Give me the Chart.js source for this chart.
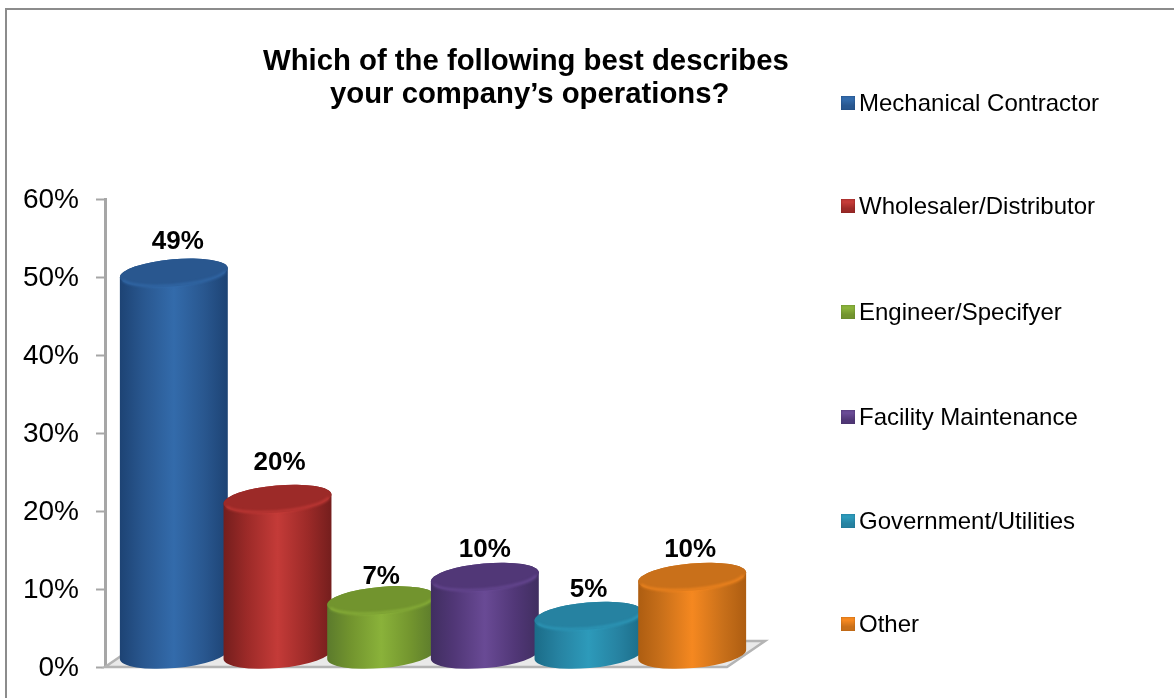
<!DOCTYPE html>
<html lang="en">
<head>
<meta charset="utf-8">
<title>Company operations</title>
<script src="https://cdn.jsdelivr.net/npm/chart.js@4/dist/chart.umd.min.js"></script>
<style>
    html, body { margin: 0; padding: 0; background: #fff; overflow: hidden; }
    body { width: 1174px; height: 698px; position: relative; font-family: "Liberation Sans", Arial, sans-serif; color: #000; }
    #frame { position: absolute; left: 5px; top: 8px; width: 1169px; height: 690px; box-sizing: border-box;
             border-left: 2px solid #8c8c8c; border-top: 2px solid #8c8c8c; }
    #chart { position: absolute; left: 0; top: 0; }
    #title { position: absolute; left: 0; top: 0; margin: 0; font-size: 29.3px; font-weight: bold; line-height: 32px; white-space: nowrap; }
    #title span { position: absolute; }
    #legend { position: absolute; left: 841px; top: 0; margin: 0; padding: 0; list-style: none; font-size: 24px; }
    #legend li { position: absolute; height: 28px; line-height: 28px; white-space: nowrap; }
    #legend i { position: absolute; left: 0; top: 7px; width: 14px; height: 14px; }
    #legend b { position: absolute; left: 18px; top: 0; font-weight: normal; }
</style>
</head>
<body>
<div id="frame"></div>
<canvas id="chart" width="1174" height="698"></canvas>
<h1 id="title">
    <span style="left:263px;top:44px">Which of the following best describes</span>
    <span style="left:330px;top:77px">your company’s operations?</span>
</h1>
<ul id="legend"></ul>
<script>
// Survey answers, in percent
const categories = ['Mechanical Contractor', 'Wholesaler/Distributor', 'Engineer/Specifyer', 'Facility Maintenance', 'Government/Utilities', 'Other'];
const shares = [49, 20, 7, 10, 5, 10];
const tickStep = 10;
const axisMax = 60;

// Cylinder palette: edge, middle, lid
const edgeColors = ['#1d4374', '#741e1d', '#5b7a2c', '#402e60', '#1b6c88', '#ad5d11'];
const midColors = ['#336bab', '#c43b38', '#8ab23a', '#694a95', '#2d9aba', '#f58820'];
const lidColors = ['#29578f', '#9c2a28', '#72942e', '#513777', '#2682a1', '#c9701a'];

// Room taken by the 3D floor behind the axis
const FLOOR_DX = 38;
const FLOOR_DY = -26;
const BAR_DX = 17;
const BAR_DY = -12;
const BAR_WIDEN = 1.045;
const LID_RATIO = 0.25;
const TILT = -5 * Math.PI / 180;

// Offsets of each value label from its bar centre and value
const labelShift = [4, 2, 0, 0, 0, -2];
const labelLift = [43, 48, 36, 39, 38, 39];

function drawFloor(ctx, area) {
    ctx.save();
    ctx.beginPath();
    ctx.moveTo(area.left, area.bottom);
    ctx.lineTo(area.right, area.bottom);
    ctx.lineTo(area.right + FLOOR_DX, area.bottom + FLOOR_DY);
    ctx.lineTo(area.left + FLOOR_DX, area.bottom + FLOOR_DY);
    ctx.closePath();
    ctx.fillStyle = '#e9e9e9';
    ctx.fill();
    ctx.lineWidth = 2.5;
    ctx.strokeStyle = '#b4b4b4';
    ctx.stroke();
    ctx.restore();
}

function drawCylinder(ctx, bar, i) {
    const cx = bar.x + BAR_DX;
    const a = bar.width / 2 * BAR_WIDEN;
    const b = a * LID_RATIO;
    const topY = bar.y + BAR_DY;
    const baseY = bar.base + BAR_DY;

    // Side of the cylinder, brightest down the middle
    const side = ctx.createLinearGradient(cx - a, 0, cx + a, 0);
    side.addColorStop(0, edgeColors[i]);
    side.addColorStop(0.22, lidColors[i]);
    side.addColorStop(0.5, midColors[i]);
    side.addColorStop(0.78, lidColors[i]);
    side.addColorStop(1, edgeColors[i]);
    ctx.beginPath();
    ctx.ellipse(cx, baseY, a, b, TILT, Math.PI, 0, true);
    ctx.ellipse(cx, topY, a, b, TILT, 0, Math.PI, true);
    ctx.closePath();
    ctx.fillStyle = side;
    ctx.fill();

    // Lid, with a soft lit rim along its front edge
    ctx.beginPath();
    ctx.ellipse(cx, topY, a, b, TILT, 0, Math.PI * 2);
    ctx.fillStyle = lidColors[i];
    ctx.fill();
    ctx.save();
    ctx.filter = 'blur(1.2px)';
    ctx.globalAlpha = 0.7;
    ctx.beginPath();
    ctx.ellipse(cx, topY, a - 1, b - 1, TILT, Math.PI * 0.92, Math.PI * 0.08, true);
    ctx.lineWidth = 3;
    ctx.strokeStyle = midColors[i];
    ctx.stroke();
    ctx.restore();
}

const cylinderPlugin = {
    id: 'cylinders',
    beforeDatasetsDraw(chart) {
        drawFloor(chart.ctx, chart.chartArea);
    },
    beforeDatasetDraw(chart, args) {
        const ctx = chart.ctx;
        ctx.save();
        args.meta.data.forEach((bar, i) => drawCylinder(ctx, bar, i));
        ctx.restore();
        return false; // the flat bars are replaced by the cylinders
    },
    afterDatasetsDraw(chart) {
        const ctx = chart.ctx;
        ctx.save();
        ctx.font = 'bold 26px "Liberation Sans", Arial, sans-serif';
        ctx.fillStyle = '#000';
        ctx.textAlign = 'center';
        ctx.textBaseline = 'middle';
        chart.getDatasetMeta(0).data.forEach((bar, i) => {
            ctx.fillText(shares[i] + '%', bar.x + BAR_DX + labelShift[i], bar.y - labelLift[i]);
        });
        ctx.restore();
    }
};

new Chart(document.getElementById('chart'), {
    type: 'bar',
    data: {
        labels: categories,
        datasets: [{
            data: shares,
            backgroundColor: midColors,
            barPercentage: 1,
            categoryPercentage: 1
        }]
    },
    options: {
        responsive: false,
        animation: false,
        layout: { padding: { left: 0, top: 199, right: 447, bottom: 31 } },
        plugins: { legend: { display: false }, title: { display: false }, tooltip: { enabled: false } },
        scales: {
            x: { display: false },
            y: {
                min: 0,
                max: axisMax,
                afterFit(scale) {
                    // tick padding would otherwise eat into the plot height
                    scale.width = 105;
                    scale.paddingTop = 0;
                    scale.paddingBottom = 0;
                },
                border: { display: true, color: '#a6a6a6', width: 3 },
                grid: { drawOnChartArea: false, color: '#a6a6a6', tickLength: 9, tickWidth: 2 },
                ticks: {
                    stepSize: tickStep,
                    padding: 17,
                    labelOffset: 1,
                    color: '#000',
                    font: { family: '"Liberation Sans", Arial, sans-serif', size: 28 },
                    callback: value => value + '%'
                }
            }
        }
    },
    plugins: [cylinderPlugin]
});

// Legend rows sit one under the other on the right of the plot
const legendList = document.getElementById('legend');
const legendTops = [89, 192, 298, 403, 507, 610];
categories.forEach((name, i) => {
    const row = document.createElement('li');
    row.style.top = legendTops[i] + 'px';
    row.innerHTML = `<i style="background:linear-gradient(${midColors[i]} 25%, ${lidColors[i]} 70%);box-shadow:inset 0 0 2px ${edgeColors[i]}"></i><b>${name}</b>`;
    legendList.appendChild(row);
});
</script>
</body>
</html>
